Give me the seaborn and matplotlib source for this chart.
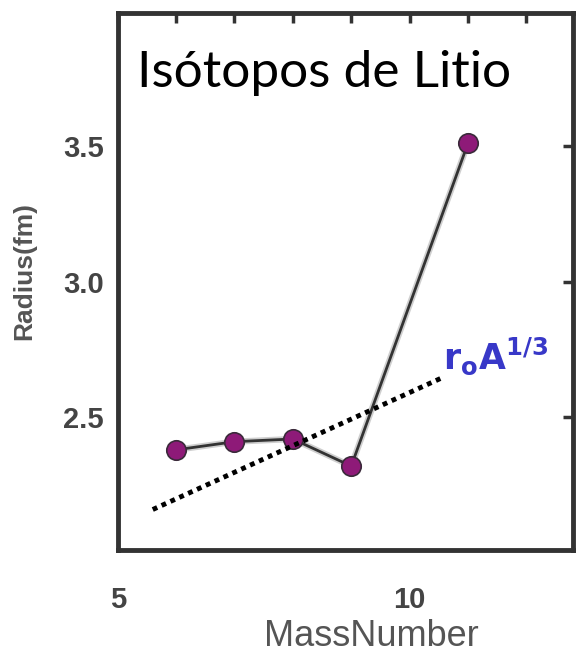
import matplotlib
matplotlib.use("Agg")
import matplotlib.pyplot as plt
import seaborn as sns
import pandas as pd

# data
mass_number = [6, 7, 8, 9, 11]
radius_fm = [2.38, 2.41, 2.42, 2.32, 3.51]

# r0 A^(1/3) reference line (endpoints)
fit_x = [5.6, 10.6]
fit_y = [2.16, 2.65]

x_ticks = [5, 6, 7, 8, 9, 10, 11, 12]
x_tick_labels = ["5", "", "", "", "", "10", "", ""]
y_ticks = [2.5, 3.0, 3.5]
y_tick_labels = ["2.5", "3.0", "3.5"]

sns.set_theme(style="white")
plt.rcParams["font.family"] = ["Liberation Sans", "DejaVu Sans"]

df = pd.DataFrame({"mass": mass_number, "radius": radius_fm})

fig = plt.figure(figsize=(5.8, 6.55), dpi=100)
ax = fig.add_axes([0.203, 0.160, 0.785, 0.820])

# halo under the line, then the line itself
sns.lineplot(data=df, x="mass", y="radius", ax=ax, color="#cfcfcf", linewidth=4.5, zorder=2)
sns.lineplot(data=df, x="mass", y="radius", ax=ax, color="#333333", linewidth=2, zorder=3,
             marker="o", markersize=14, markerfacecolor="#8e1a78",
             markeredgecolor="#3a2a3a", markeredgewidth=1.2)

ax.plot(fit_x, fit_y, linestyle=(0, (1, 1)), color="black", linewidth=3.5, zorder=4)

ax.text(10.58, 2.65, r"$\mathbf{r_oA^{1/3}}$", color="#3838c8", fontsize=25,
        ha="left", va="bottom", zorder=5)
ax.text(5.33, 3.77, "Isótopos de Litio", fontsize=37, color="black",
        family=["Lato", "DejaVu Sans"], ha="left", va="center")

ax.set_xlim(5, 12.8)
ax.set_ylim(2.01, 3.99)
ax.set_xticks(x_ticks)
ax.set_xticklabels(x_tick_labels)
ax.set_yticks(y_ticks)
ax.set_yticklabels(y_tick_labels)

ax.tick_params(axis="both", which="major", direction="in", length=7, width=2.5,
               color="#333333", top=True, right=True, labelcolor="#444444",
               labelsize=21)
ax.tick_params(axis="x", pad=26)
ax.tick_params(axis="y", pad=10)
for lbl in ax.get_xticklabels() + ax.get_yticklabels():
    lbl.set_fontweight("bold")

for side in ["left", "right", "top", "bottom"]:
    ax.spines[side].set_visible(True)
    ax.spines[side].set_linewidth(3.5)
    ax.spines[side].set_color("#333333")

ax.set_xlabel("MassNumber", fontsize=26, color="#555555")
ax.xaxis.set_label_coords(0.556, -0.128)
ax.set_ylabel("Radius(fm)", fontsize=19, color="#555555", fontweight="bold")
ax.yaxis.set_label_coords(-0.18, 0.52)

fig.savefig("out.png", dpi=100)
plt.close(fig)
